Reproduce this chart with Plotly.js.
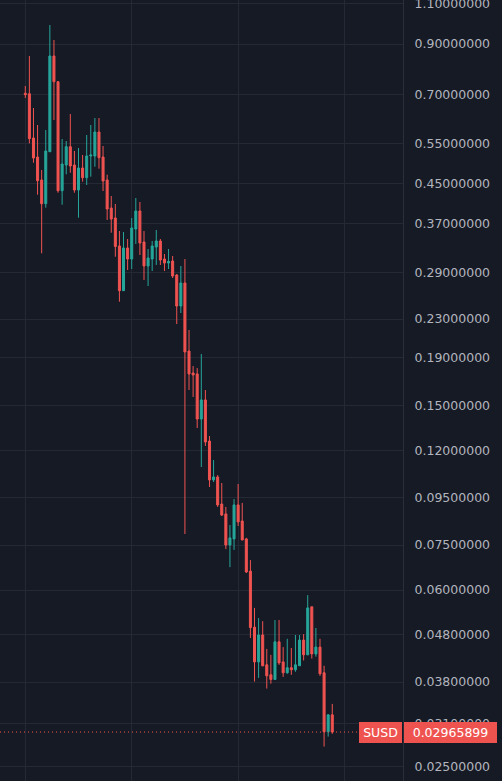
<!DOCTYPE html>
<html>
<head>
<meta charset="utf-8">
<script src="https://cdn.plot.ly/plotly-3.0.1.min.js"></script>
<style>
html,body{margin:0;padding:0;background:#161a25;}
#chart{width:502px;height:781px;}
</style>
</head>
<body>
<div id="chart"></div>
<script>
// Candle data (weekly candles, oldest first)
const openVals = [0.7048,0.7033,0.5646,0.5138,0.4585,0.4076,0.5275,0.848,0.7465,0.4347,
  0.4938,0.5408,0.4938,0.4363,0.4865,0.4637,0.5164,0.5164,0.5817,0.5138,
  0.4585,0.399,0.3797,0.3305,0.2648,0.3272,0.3098,0.3595,0.3931,0.3371,
  0.2993,0.3098,0.3288,0.3388,0.3098,0.3037,0.3068,0.2862,0.2454,0.2751,
  0.1963,0.176,0.1752,0.1401,0.154,0.1256,0.1036,0.1051,0.0919,0.0875,
  0.075,0.0773,0.0915,0.0845,0.0773,0.0659,0.0499,0.042,0.048,0.0414,
  0.0394,0.0385,0.0464,0.042,0.0398,0.0408,0.0404,0.0412,0.0468,0.0435,
  0.0552,0.0437,0.0452,0.0398,0.0297,0.0323];
const highVals = [0.7308,0.848,0.6553,0.6022,0.4818,0.5875,0.9889,0.918,0.7491,0.5618,
  0.5563,0.636,0.5294,0.5373,0.519,0.5731,0.6022,0.6235,0.6235,0.5427,
  0.4707,0.4234,0.407,0.356,0.3542,0.3421,0.3797,0.4193,0.4111,0.356,
  0.3256,0.3388,0.3578,0.3421,0.3176,0.3256,0.3145,0.2876,0.2993,0.3098,
  0.2179,0.1822,0.1804,0.1934,0.1618,0.1288,0.1143,0.1061,0.102,0.0906,
  0.0828,0.0942,0.1015,0.0924,0.0777,0.0696,0.0549,0.0522,0.0514,0.0448,
  0.0435,0.0517,0.0517,0.0452,0.0471,0.045,0.048,0.048,0.0482,0.0585,
  0.0552,0.0497,0.0471,0.0412,0.0324,0.0341];
const lowVals = [0.6885,0.55,0.4995,0.4262,0.3187,0.3996,0.5275,0.6174,0.4305,0.4056,
  0.4716,0.4753,0.4305,0.3803,0.4546,0.4472,0.466,0.4897,0.4849,0.4341,
  0.376,0.353,0.3134,0.2507,0.2648,0.2934,0.2948,0.3338,0.316,0.2792,
  0.271,0.2919,0.3008,0.3008,0.2919,0.2948,0.282,0.2244,0.237,0.0792,
  0.1618,0.1563,0.134,0.1104,0.1226,0.1,0.1025,0.0906,0.0866,0.0735,
  0.0672,0.0732,0.0824,0.0769,0.0653,0.0473,0.0381,0.0388,0.0411,0.0368,
  0.0377,0.0385,0.0414,0.039,0.0396,0.0394,0.04,0.0412,0.0423,0.0435,
  0.0427,0.0431,0.0392,0.0276,0.029,0.0294];
const closeVals = [0.7,0.5627,0.5113,0.4568,0.4076,0.5294,0.848,0.7465,0.4347,0.4963,
  0.5408,0.4914,0.4363,0.4865,0.4637,0.5164,0.519,0.5817,0.5121,0.4562,
  0.397,0.3778,0.3297,0.2648,0.3272,0.3098,0.3613,0.3931,0.3354,0.2993,
  0.3114,0.3305,0.3388,0.3083,0.3037,0.306,0.2848,0.2454,0.2751,0.1954,
  0.1752,0.1743,0.1401,0.154,0.125,0.1036,0.1051,0.0915,0.087,0.075,
  0.0777,0.0915,0.0841,0.0769,0.0656,0.0498,0.042,0.048,0.0412,0.0392,
  0.0385,0.0464,0.0418,0.0398,0.0408,0.0404,0.0414,0.0468,0.0435,0.0549,
  0.0437,0.0452,0.0396,0.0297,0.0323,0.02965899];
const symbol = "SUSD";
const priceTicks = [1.1,0.9,0.7,0.55,0.45,0.37,0.29,0.23,0.19,0.15,0.12,0.095,0.075,0.06,0.048,0.038,0.031,0.025];
const priceTickText = priceTicks.map(v => v.toFixed(8));
const gridPositions = [0, 26, 52, 78];

const idx = openVals.map((_, i) => i);
const lastPrice = closeVals[closeVals.length - 1];
const xRange = [-6.18, 92.28];
const yRange = [Math.log10(0.023267), Math.log10(1.1195)];

const UP = '#26a69a', DOWN = '#ef5350';

const traces = [
  {
    type: 'candlestick',
    x: idx, open: openVals, high: highVals, low: lowVals, close: closeVals,
    increasing: {line: {color: UP, width: 1}, fillcolor: UP},
    decreasing: {line: {color: DOWN, width: 1}, fillcolor: DOWN},
    whiskerwidth: 0,
    hoverinfo: 'skip',
    showlegend: false
  },
  {
    type: 'scatter', mode: 'lines',
    x: xRange, y: [lastPrice, lastPrice],
    line: {color: DOWN, width: 1, dash: '1px,3px'},
    hoverinfo: 'skip', showlegend: false
  }
];

const fontFam = 'DejaVu Sans, sans-serif';
const layout = {
  width: 502, height: 781,
  margin: {l: 0, r: 99, t: 0, b: 0, pad: 0},
  paper_bgcolor: '#161a25',
  plot_bgcolor: '#161a25',
  showlegend: false,
  hovermode: false,
  xaxis: {
    type: 'linear', range: xRange,
    tickvals: gridPositions, showticklabels: false, ticks: '',
    showgrid: true, gridcolor: '#252936', gridwidth: 1,
    zeroline: false, showline: false,
    rangeslider: {visible: false}, fixedrange: true
  },
  yaxis: {
    type: 'log', side: 'right', range: yRange,
    tickvals: priceTicks, ticktext: priceTickText,
    tickfont: {family: fontFam, size: 12.5, color: '#b2b5be'},
    ticks: '', ticklabelstandoff: 8, ticklabeloverflow: 'allow',
    showgrid: true, gridcolor: '#252936', gridwidth: 1,
    zeroline: false, showline: true, linecolor: '#2a2e39', linewidth: 1,
    fixedrange: true
  },
  annotations: [
    {
      xref: 'paper', yref: 'y', x: 359/403, y: Math.log10(lastPrice),
      xanchor: 'left', yanchor: 'middle', showarrow: false,
      text: symbol, bgcolor: DOWN, borderpad: 0, borderwidth: 0,
      width: 43, height: 21, align: 'center', valign: 'middle',
      font: {family: fontFam, size: 12.5, color: '#ffffff'}
    },
    {
      xref: 'paper', yref: 'y', x: 404/403, y: Math.log10(lastPrice),
      xanchor: 'left', yanchor: 'middle', showarrow: false,
      text: lastPrice.toFixed(8), bgcolor: DOWN, borderpad: 0, borderwidth: 0,
      width: 93, height: 21, align: 'center', valign: 'middle',
      font: {family: fontFam, size: 12.5, color: '#ffffff'}
    }
  ]
};

Plotly.newPlot('chart', traces, layout, {displayModeBar: false, staticPlot: true});
</script>
</body>
</html>
